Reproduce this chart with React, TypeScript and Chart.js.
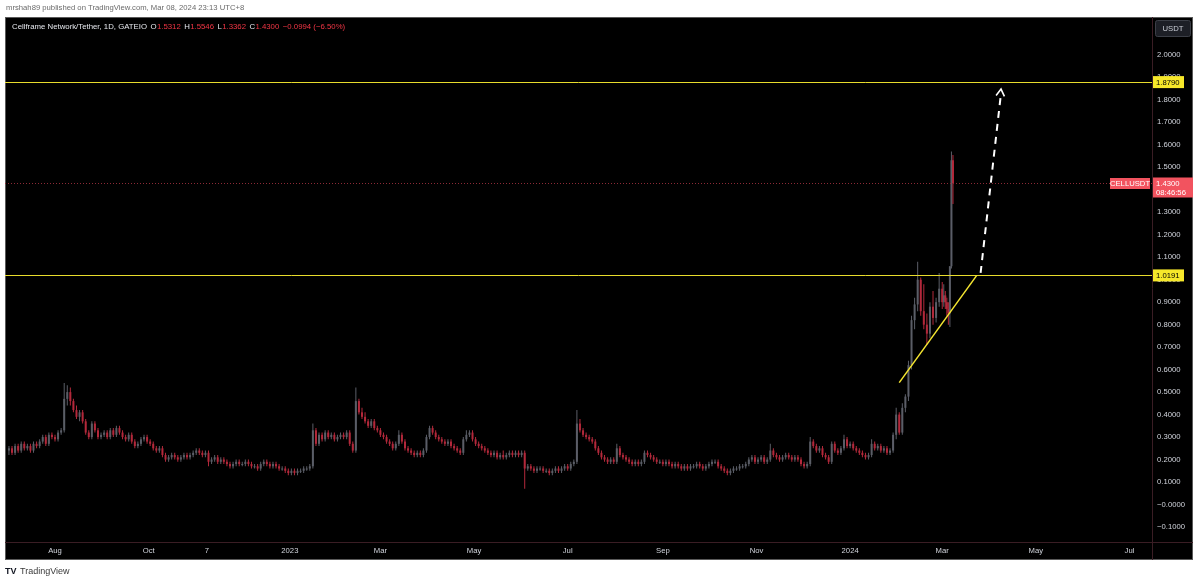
import React, { useEffect, useRef } from "react";
import { Chart, registerables } from "chart.js";

Chart.register(...registerables);

// ---------------- data ----------------
// Day 0 = 2022-07-02. Two-day candles from day 0 to day 608 (2024-03-01),
// then daily candles for 2024-03-02 .. 2024-03-08.
const firstOpen = 0.24;

const closes2d = [
  0.25, 0.23, 0.26, 0.24, 0.27, 0.25, 0.26, 0.24, 0.27, 0.26,
  0.28, 0.30, 0.27, 0.31, 0.30, 0.29, 0.32, 0.33, 0.47, 0.50,
  0.46, 0.42, 0.39, 0.41, 0.37, 0.32, 0.30, 0.36, 0.33, 0.30,
  0.31, 0.32, 0.30, 0.33, 0.31, 0.34, 0.32, 0.30, 0.29, 0.31,
  0.28, 0.26, 0.27, 0.29, 0.30, 0.28, 0.27, 0.25, 0.24, 0.25,
  0.22, 0.20, 0.21, 0.22, 0.21, 0.20, 0.21, 0.22, 0.21, 0.22,
  0.23, 0.24, 0.23, 0.22, 0.23, 0.19, 0.20, 0.21, 0.19, 0.20,
  0.19, 0.18, 0.17, 0.18, 0.19, 0.18, 0.18, 0.19, 0.18, 0.17,
  0.17, 0.16, 0.18, 0.19, 0.18, 0.17, 0.18, 0.17, 0.16, 0.16,
  0.15, 0.14, 0.15, 0.14, 0.15, 0.15, 0.16, 0.16, 0.17, 0.33,
  0.27, 0.31, 0.29, 0.32, 0.30, 0.31, 0.29, 0.30, 0.31, 0.30,
  0.32, 0.27, 0.24, 0.46, 0.41, 0.39, 0.37, 0.35, 0.37, 0.34,
  0.33, 0.31, 0.30, 0.28, 0.27, 0.25, 0.27, 0.31, 0.28, 0.25,
  0.24, 0.23, 0.22, 0.23, 0.22, 0.24, 0.30, 0.34, 0.32, 0.30,
  0.29, 0.28, 0.27, 0.28, 0.26, 0.25, 0.24, 0.23, 0.29, 0.31,
  0.32, 0.29, 0.27, 0.26, 0.25, 0.24, 0.23, 0.22, 0.23, 0.21,
  0.22, 0.21, 0.22, 0.23, 0.22, 0.23, 0.22, 0.23, 0.16, 0.17,
  0.16, 0.15, 0.16, 0.16, 0.15, 0.15, 0.14, 0.15, 0.16, 0.15,
  0.16, 0.17, 0.16, 0.18, 0.19, 0.36, 0.33, 0.31, 0.30, 0.29,
  0.28, 0.25, 0.23, 0.21, 0.20, 0.19, 0.20, 0.19, 0.25, 0.22,
  0.21, 0.20, 0.19, 0.18, 0.19, 0.18, 0.19, 0.23, 0.22, 0.21,
  0.20, 0.19, 0.19, 0.18, 0.19, 0.18, 0.17, 0.18, 0.17, 0.16,
  0.17, 0.16, 0.17, 0.17, 0.18, 0.17, 0.16, 0.17, 0.18, 0.19,
  0.19, 0.17, 0.16, 0.15, 0.14, 0.15, 0.16, 0.16, 0.17, 0.17,
  0.18, 0.20, 0.21, 0.19, 0.20, 0.21, 0.19, 0.20, 0.24, 0.22,
  0.21, 0.20, 0.21, 0.22, 0.21, 0.20, 0.21, 0.20, 0.18, 0.17,
  0.18, 0.28, 0.26, 0.24, 0.25, 0.22, 0.21, 0.19, 0.27, 0.24,
  0.23, 0.25, 0.29, 0.26, 0.27, 0.25, 0.24, 0.23, 0.22, 0.21,
  0.22, 0.27, 0.25, 0.26, 0.24, 0.25, 0.23, 0.24, 0.31, 0.40,
  0.32, 0.43, 0.48, 0.62, 0.82, 0.89, 1.00, 0.86, 0.80, 0.76,
  0.88, 0.83, 0.90, 0.96, 0.90,
];

const highs2d = [
  0.26, 0.26, 0.27, 0.27, 0.28, 0.28, 0.27, 0.27, 0.28, 0.28,
  0.29, 0.31, 0.31, 0.32, 0.32, 0.31, 0.33, 0.34, 0.54, 0.53,
  0.52, 0.47, 0.44, 0.42, 0.42, 0.38, 0.33, 0.37, 0.37, 0.34,
  0.32, 0.33, 0.33, 0.34, 0.34, 0.35, 0.35, 0.33, 0.31, 0.32,
  0.32, 0.29, 0.28, 0.30, 0.31, 0.31, 0.29, 0.28, 0.26, 0.26,
  0.26, 0.23, 0.22, 0.23, 0.23, 0.22, 0.22, 0.23, 0.23, 0.23,
  0.24, 0.25, 0.25, 0.24, 0.24, 0.24, 0.21, 0.22, 0.22, 0.21,
  0.21, 0.20, 0.19, 0.19, 0.20, 0.20, 0.19, 0.20, 0.20, 0.19,
  0.18, 0.18, 0.19, 0.20, 0.20, 0.19, 0.19, 0.19, 0.18, 0.17,
  0.17, 0.16, 0.16, 0.16, 0.16, 0.16, 0.17, 0.17, 0.18, 0.36,
  0.34, 0.32, 0.32, 0.33, 0.33, 0.32, 0.32, 0.31, 0.32, 0.32,
  0.33, 0.33, 0.28, 0.52, 0.47, 0.43, 0.41, 0.38, 0.38, 0.38,
  0.35, 0.34, 0.32, 0.31, 0.29, 0.28, 0.28, 0.33, 0.32, 0.29,
  0.26, 0.25, 0.24, 0.24, 0.24, 0.25, 0.31, 0.35, 0.35, 0.33,
  0.31, 0.30, 0.29, 0.29, 0.29, 0.27, 0.26, 0.25, 0.30, 0.33,
  0.33, 0.33, 0.30, 0.28, 0.27, 0.26, 0.25, 0.24, 0.24, 0.24,
  0.23, 0.24, 0.23, 0.24, 0.24, 0.24, 0.24, 0.24, 0.24, 0.18,
  0.18, 0.17, 0.17, 0.17, 0.17, 0.16, 0.16, 0.16, 0.17, 0.17,
  0.17, 0.18, 0.18, 0.19, 0.20, 0.42, 0.38, 0.34, 0.32, 0.31,
  0.30, 0.29, 0.26, 0.24, 0.22, 0.21, 0.21, 0.21, 0.27, 0.26,
  0.23, 0.22, 0.21, 0.20, 0.20, 0.20, 0.20, 0.24, 0.24, 0.23,
  0.22, 0.21, 0.20, 0.20, 0.20, 0.20, 0.19, 0.19, 0.19, 0.18,
  0.18, 0.18, 0.18, 0.18, 0.19, 0.19, 0.18, 0.18, 0.19, 0.20,
  0.20, 0.20, 0.18, 0.17, 0.16, 0.16, 0.17, 0.17, 0.18, 0.18,
  0.19, 0.21, 0.22, 0.22, 0.21, 0.22, 0.22, 0.21, 0.27, 0.25,
  0.23, 0.22, 0.22, 0.23, 0.23, 0.22, 0.22, 0.22, 0.21, 0.19,
  0.19, 0.30, 0.29, 0.27, 0.26, 0.26, 0.23, 0.22, 0.28, 0.28,
  0.25, 0.26, 0.31, 0.30, 0.28, 0.28, 0.26, 0.25, 0.24, 0.23,
  0.23, 0.29, 0.28, 0.27, 0.27, 0.26, 0.26, 0.25, 0.32, 0.43,
  0.41, 0.45, 0.49, 0.64, 0.84, 0.92, 1.08, 1.01, 0.98, 0.85,
  0.90, 0.95, 0.92, 1.03, 0.99,
];

const lows2d = [
  0.22, 0.22, 0.22, 0.23, 0.23, 0.24, 0.24, 0.23, 0.23, 0.25,
  0.25, 0.27, 0.26, 0.26, 0.29, 0.28, 0.28, 0.31, 0.32, 0.44,
  0.44, 0.41, 0.38, 0.37, 0.36, 0.31, 0.29, 0.29, 0.32, 0.29,
  0.29, 0.30, 0.29, 0.29, 0.30, 0.30, 0.31, 0.29, 0.28, 0.28,
  0.27, 0.25, 0.25, 0.26, 0.28, 0.27, 0.26, 0.24, 0.23, 0.23,
  0.21, 0.19, 0.19, 0.20, 0.20, 0.19, 0.19, 0.20, 0.20, 0.20,
  0.21, 0.22, 0.22, 0.21, 0.21, 0.17, 0.18, 0.19, 0.18, 0.18,
  0.18, 0.17, 0.16, 0.16, 0.17, 0.17, 0.17, 0.17, 0.17, 0.16,
  0.16, 0.15, 0.15, 0.17, 0.17, 0.16, 0.16, 0.16, 0.15, 0.15,
  0.14, 0.13, 0.13, 0.13, 0.13, 0.14, 0.14, 0.15, 0.15, 0.16,
  0.26, 0.26, 0.28, 0.28, 0.29, 0.29, 0.28, 0.28, 0.29, 0.29,
  0.29, 0.26, 0.23, 0.23, 0.40, 0.38, 0.36, 0.34, 0.34, 0.33,
  0.32, 0.30, 0.29, 0.27, 0.26, 0.24, 0.24, 0.26, 0.27, 0.24,
  0.23, 0.22, 0.21, 0.21, 0.21, 0.21, 0.23, 0.29, 0.31, 0.29,
  0.28, 0.27, 0.26, 0.26, 0.25, 0.24, 0.23, 0.22, 0.22, 0.28,
  0.30, 0.28, 0.26, 0.25, 0.24, 0.23, 0.22, 0.21, 0.21, 0.20,
  0.20, 0.20, 0.20, 0.21, 0.21, 0.21, 0.21, 0.21, 0.07, 0.15,
  0.15, 0.14, 0.14, 0.15, 0.14, 0.14, 0.13, 0.13, 0.14, 0.14,
  0.14, 0.15, 0.15, 0.15, 0.17, 0.18, 0.32, 0.30, 0.29, 0.28,
  0.27, 0.24, 0.22, 0.20, 0.19, 0.18, 0.18, 0.18, 0.18, 0.21,
  0.20, 0.19, 0.18, 0.17, 0.17, 0.17, 0.17, 0.18, 0.21, 0.20,
  0.19, 0.18, 0.18, 0.17, 0.17, 0.17, 0.16, 0.16, 0.16, 0.15,
  0.15, 0.15, 0.15, 0.16, 0.16, 0.16, 0.15, 0.15, 0.16, 0.17,
  0.18, 0.16, 0.15, 0.14, 0.13, 0.13, 0.14, 0.15, 0.15, 0.16,
  0.16, 0.17, 0.19, 0.18, 0.18, 0.19, 0.18, 0.18, 0.19, 0.21,
  0.20, 0.19, 0.19, 0.20, 0.20, 0.19, 0.19, 0.19, 0.17, 0.16,
  0.16, 0.17, 0.25, 0.23, 0.23, 0.21, 0.20, 0.18, 0.18, 0.23,
  0.22, 0.22, 0.24, 0.25, 0.25, 0.24, 0.23, 0.22, 0.21, 0.20,
  0.20, 0.21, 0.24, 0.24, 0.23, 0.23, 0.22, 0.22, 0.23, 0.29,
  0.31, 0.31, 0.41, 0.46, 0.60, 0.78, 0.86, 0.84, 0.78, 0.71,
  0.74, 0.80, 0.81, 0.88, 0.87,
];

// daily candles 2024-03-02 .. 2024-03-08
const firstDailyDay = 609;
const closesDaily = [0.93, 0.9, 0.87, 0.85, 1.06, 1.5312, 1.43];
const highsDaily = [0.98, 0.95, 0.92, 0.9, 1.06, 1.57, 1.5546];
const lowsDaily = [0.88, 0.87, 0.84, 0.8, 0.79, 1.05, 1.3362];

// axis ranges and ticks
const dayMin = -2.57;
const dayMax = 744.66;
const priceMin = -0.1668;
const priceMax = 2.1686;
const priceTicks = [-0.1, 0, 0.1, 0.2, 0.3, 0.4, 0.5, 0.6, 0.7, 0.8, 0.9, 1.0, 1.1, 1.2, 1.3, 1.4, 1.5, 1.6, 1.7, 1.8, 1.9, 2.0];
const timeTickDays = [30, 91, 129, 183, 242, 303, 364, 426, 487, 548, 608, 669, 730];
const timeTickLabels = ["Aug", "Oct", "7", "2023", "Mar", "May", "Jul", "Sep", "Nov", "2024", "Mar", "May", "Jul"];

// drawings
const levelValues = [1.879, 1.0191];
const levelLabels = ["1.8790", "1.0191"];
const currentPrice = 1.43;
const trendDays = [580, 630.5];
const trendValues = [0.542, 1.019];
const arrowDays = [633, 646.3];
const arrowValues = [1.03, 1.848];

// texts
const headerText = "mrshah89 published on TradingView.com, Mar 08, 2024 23:13 UTC+8";
const titleText = "Cellframe Network/Tether, 1D, GATEIO";
const ohlcLabels = ["O", "H", "L", "C"];
const ohlcValues = ["1.5312", "1.5546", "1.3362", "1.4300"];
const changeText = "\u22120.0994 (\u22126.50%)";
const symbolText = "CELLUSDT";
const priceText = "1.4300";
const countdownText = "08:46:56";
const currencyText = "USDT";

const UP = "#5b5e67";
const DOWN = "#b3293b";
const FONT = "'Liberation Sans', Arial, sans-serif";

function fmtPrice(v: number) {
  return (v <= 0 ? "\u2212" : "") + Math.abs(v).toFixed(4);
}

export default function App() {
  const ref = useRef<HTMLCanvasElement>(null);

  useEffect(() => {
    const canvas = ref.current!;
    const days: number[] = [];
    const highs: number[] = [];
    const lows: number[] = [];
    const closes: number[] = [];
    closes2d.forEach((c, i) => {
      days.push(2 * i);
      closes.push(c);
      highs.push(highs2d[i]);
      lows.push(lows2d[i]);
    });
    closesDaily.forEach((c, i) => {
      days.push(firstDailyDay + i);
      closes.push(c);
      highs.push(highsDaily[i]);
      lows.push(lowsDaily[i]);
    });
    const opens = closes.map((c, i) => (i === 0 ? firstOpen : closes[i - 1]));
    const colors = closes.map((c, i) => (c >= opens[i] ? UP : DOWN));
    const wickData = days.map((d, i) => ({ x: d, y: [lows[i], highs[i]] }));
    const bodyData = days.map((d, i) => ({
      x: d,
      y: [Math.min(opens[i], closes[i]), Math.max(opens[i], closes[i])],
    }));

    const panel = {
      id: "panel",
      beforeDraw(chart: any) {
        const { ctx, width, height, chartArea: ca } = chart;
        const ys = chart.scales.y;
        const xs = chart.scales.x;
        const right = ca.right + ys.width;
        const bottom = ca.bottom + xs.height;
        ctx.save();
        ctx.fillStyle = "#ffffff";
        ctx.fillRect(0, 0, width, height);
        ctx.fillStyle = "#000000";
        ctx.fillRect(ca.left, ca.top, right - ca.left, bottom - ca.top);
        ctx.strokeStyle = "#5a5a5a";
        ctx.lineWidth = 1;
        ctx.strokeRect(ca.left + 0.5, ca.top + 0.5, right - ca.left - 1, bottom - ca.top - 1);
        ctx.strokeStyle = "#3a1d24";
        ctx.beginPath();
        ctx.moveTo(ca.left, ca.bottom + 0.5);
        ctx.lineTo(right, ca.bottom + 0.5);
        ctx.moveTo(ca.right + 0.5, ca.top);
        ctx.lineTo(ca.right + 0.5, bottom);
        ctx.stroke();
        // header
        ctx.fillStyle = "#6a6a6a";
        ctx.font = `7.7px ${FONT}`;
        ctx.textBaseline = "middle";
        ctx.textAlign = "left";
        ctx.fillText(headerText, 6, 8);
        // footer
        ctx.fillStyle = "#131722";
        ctx.font = `bold 9px ${FONT}`;
        ctx.fillText("TV", 5, 572);
        ctx.fillStyle = "#3a3a3a";
        ctx.font = `9px ${FONT}`;
        ctx.fillText("TradingView", 20, 572);
        ctx.restore();
      },
    };

    const overlay = {
      id: "overlay",
      afterDatasetsDraw(chart: any) {
        const { ctx, chartArea: ca } = chart;
        const xs = chart.scales.x;
        const ys = chart.scales.y;
        ctx.save();
        // level lines
        ctx.strokeStyle = "#e8dc2c";
        ctx.lineWidth = 1;
        levelValues.forEach((v) => {
          const py = Math.round(ys.getPixelForValue(v)) + 0.5;
          ctx.beginPath();
          ctx.moveTo(ca.left, py);
          ctx.lineTo(ca.right, py);
          ctx.stroke();
        });
        // current price dotted line
        const pp = Math.round(ys.getPixelForValue(currentPrice)) + 0.5;
        ctx.strokeStyle = "#8c2a36";
        ctx.setLineDash([1, 2]);
        ctx.beginPath();
        ctx.moveTo(ca.left, pp);
        ctx.lineTo(ca.right, pp);
        ctx.stroke();
        ctx.setLineDash([]);
        // trend line
        ctx.strokeStyle = "#f5e631";
        ctx.lineWidth = 1.5;
        ctx.beginPath();
        ctx.moveTo(xs.getPixelForValue(trendDays[0]), ys.getPixelForValue(trendValues[0]));
        ctx.lineTo(xs.getPixelForValue(trendDays[1]), ys.getPixelForValue(trendValues[1]));
        ctx.stroke();
        // dashed arrow
        const ax0 = xs.getPixelForValue(arrowDays[0]);
        const ay0 = ys.getPixelForValue(arrowValues[0]);
        const ax1 = xs.getPixelForValue(arrowDays[1]);
        const ay1 = ys.getPixelForValue(arrowValues[1]);
        ctx.strokeStyle = "#ffffff";
        ctx.lineWidth = 2;
        ctx.setLineDash([7, 6]);
        ctx.beginPath();
        ctx.moveTo(ax0, ay0);
        ctx.lineTo(ax1, ay1 + 4);
        ctx.stroke();
        ctx.setLineDash([]);
        const ang = Math.atan2(ay1 - ay0, ax1 - ax0);
        const L = 8;
        ctx.lineWidth = 1.6;
        ctx.beginPath();
        ctx.moveTo(ax1 + L * Math.cos(ang + Math.PI - 0.55), ay1 + L * Math.sin(ang + Math.PI - 0.55));
        ctx.lineTo(ax1, ay1);
        ctx.lineTo(ax1 + L * Math.cos(ang + Math.PI + 0.55), ay1 + L * Math.sin(ang + Math.PI + 0.55));
        ctx.stroke();

        // axis label boxes
        ctx.font = `7.7px ${FONT}`;
        ctx.textBaseline = "middle";
        ctx.textAlign = "left";
        levelValues.forEach((v, i) => {
          const py = ys.getPixelForValue(v);
          ctx.fillStyle = "#f7e82a";
          ctx.fillRect(ca.right + 1, py - 6, 31, 12);
          ctx.fillStyle = "#000000";
          ctx.fillText(levelLabels[i], ca.right + 4, py + 0.5);
        });
        // price box
        ctx.fillStyle = "#f2535f";
        ctx.fillRect(ca.right + 1, pp - 6, 40, 20);
        ctx.fillStyle = "#ffffff";
        ctx.fillText(priceText, ca.right + 4, pp);
        ctx.fillText(countdownText, ca.right + 4, pp + 9);
        // symbol box
        ctx.fillStyle = "#f2535f";
        ctx.fillRect(ca.right - 42, pp - 5.5, 40, 11);
        ctx.fillStyle = "#ffffff";
        ctx.textAlign = "center";
        ctx.fillText(symbolText, ca.right - 22, pp + 0.5);
        // currency box
        ctx.fillStyle = "#1d1f26";
        ctx.strokeStyle = "#3c3f47";
        ctx.lineWidth = 1;
        ctx.beginPath();
        (ctx as any).roundRect(ca.right + 3.5, ca.top + 3.5, 35, 16, 2);
        ctx.fill();
        ctx.stroke();
        ctx.fillStyle = "#c9ccd4";
        ctx.fillText(currencyText, ca.right + 21, ca.top + 12);

        // legend
        ctx.textAlign = "left";
        ctx.font = `7.8px ${FONT}`;
        let lx = ca.left + 7;
        const ly = 27;
        ctx.fillStyle = "#e6e8ee";
        ctx.fillText(titleText, lx, ly);
        lx += ctx.measureText(titleText).width + 3.5;
        ohlcLabels.forEach((lab, i) => {
          ctx.fillStyle = "#e6e8ee";
          ctx.fillText(lab, lx, ly);
          lx += ctx.measureText(lab).width + 0.3;
          ctx.fillStyle = "#f23645";
          ctx.fillText(ohlcValues[i], lx, ly);
          lx += ctx.measureText(ohlcValues[i]).width + 3.5;
        });
        ctx.fillStyle = "#f23645";
        ctx.fillText(changeText, lx, ly);
        ctx.restore();
      },
    };

    const chart = new Chart(canvas, {
      type: "bar",
      data: {
        datasets: [
          {
            data: wickData as any,
            backgroundColor: colors,
            barThickness: 1,
            grouped: false,
            borderWidth: 0,
            inflateAmount: 0,
          } as any,
          {
            data: bodyData as any,
            backgroundColor: colors,
            barThickness: 2,
            grouped: false,
            borderWidth: 0,
            minBarLength: 1,
            inflateAmount: 0,
          } as any,
        ],
      },
      options: {
        animation: false,
        responsive: false,
        devicePixelRatio: 1,
        events: [],
        layout: { padding: { left: 5, top: 17, right: 7, bottom: 23 } },
        plugins: { legend: { display: false }, tooltip: { enabled: false } },
        scales: {
          x: {
            type: "linear",
            min: dayMin,
            max: dayMax,
            offset: false,
            grid: { display: false, drawTicks: false, tickLength: 0 },
            border: { display: false },
            afterBuildTicks: (s: any) => {
              s.ticks = timeTickDays.map((v) => ({ value: v }));
            },
            afterFit: (s: any) => {
              s.height = 18;
            },
            ticks: {
              autoSkip: false,
              maxRotation: 0,
              padding: 4,
              color: "#d1d4dc",
              font: { family: FONT, size: 7.7 },
              callback: (_v: any, i: number) => timeTickLabels[i],
            },
          },
          y: {
            type: "linear",
            position: "right",
            min: priceMin,
            max: priceMax,
            grid: { display: false, drawTicks: false, tickLength: 0 },
            border: { display: false },
            afterBuildTicks: (s: any) => {
              s.ticks = priceTicks.map((v) => ({ value: v }));
            },
            afterFit: (s: any) => {
              s.width = 41;
            },
            ticks: {
              padding: 5,
              color: "#d1d4dc",
              font: { family: FONT, size: 7.7 },
              callback: (v: any) => fmtPrice(Number(v)),
            },
          },
        },
      } as any,
      plugins: [panel, overlay],
    });

    return () => chart.destroy();
  }, []);

  return (
    <div style={{ position: "absolute", left: 0, top: 0, width: 1200, height: 583, background: "#fff" }}>
      <canvas ref={ref} width={1200} height={583} style={{ display: "block", width: 1200, height: 583 }} />
    </div>
  );
}
